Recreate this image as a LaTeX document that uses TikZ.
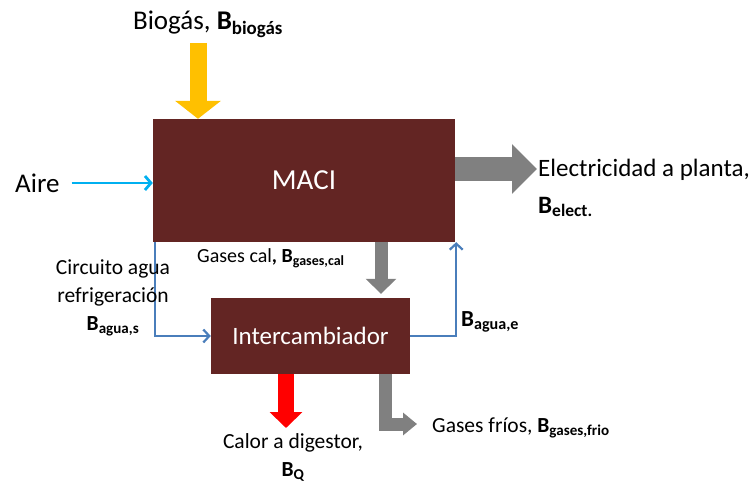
\documentclass[tikz,border=0pt]{standalone}
\usepackage{fontspec}
\setmainfont{Carlito}
\usetikzlibrary{arrows.meta, positioning}
\definecolor{maci}{HTML}{632523}
\definecolor{flecha}{HTML}{808080}
\definecolor{agua}{HTML}{4A7EBB}
\definecolor{aire}{HTML}{00B0F0}
\definecolor{biogas}{HTML}{FFC000}

\begin{document}
\begin{tikzpicture}[x=1pt, y=-1pt,
      equipo/.style={fill=maci, text=white, inner sep=0pt,
                     font=\fontsize{25}{30}\selectfont},
      grande/.style={font=\fontsize{27}{30}\selectfont, inner sep=0pt},
      medio/.style={font=\fontsize{21.5}{28}\selectfont, inner sep=0pt, align=center},
      linea/.style={agua, line width=2.2pt, -{Straight Barb[length=6pt,width=13pt]}},
      gorda/.style={line width=#1}]
    \useasboundingbox (0,0) rectangle (752,484);
    % equipos
    \node[equipo, minimum width=302pt, minimum height=123pt,
          font=\fontsize{29}{30}\selectfont] (maci) at (304,180.5) {MACI};
    \node[equipo, minimum width=199pt, minimum height=76pt] (interc) at (310.5,336) {Intercambiador};
    % entradas
    \node[grande] (biotxt) at (208,24) {Biogás, \textbf{B\textsubscript{biogás}}};
    \coordinate (bio) at (198,43);
    \draw[biogas, gorda=17pt, -{Triangle[length=18pt,width=45pt]}] (bio) -- (maci.north -| bio);
    \node[grande, anchor=west] (aire) at (15,183) {Aire};
    \draw[aire, line width=2.8pt, -{Straight Barb[length=6pt,width=14pt]}]
      ([xshift=12pt]aire.east) -- (aire -| maci.west);
    % electricidad
    \coordinate (elec) at (537,169);
    \draw[flecha, gorda=24pt, -{Triangle[length=25pt,width=48pt]}] (maci.east |- elec) -- (elec);
    \node[grande, anchor=west, font=\fontsize{25}{30}\selectfont] (electxt) at (538,170) {Electricidad a planta,};
    \node[grande, anchor=west, font=\fontsize{25}{30}\selectfont] (belec) at (538,207) {\textbf{B\textsubscript{elect.}}};
    % gases calientes
    \coordinate (gc) at (381,0);
    \draw[flecha, gorda=13pt, -{Triangle[length=15pt,width=30pt]}]
      (maci.south -| gc) -- ([yshift=4pt]interc.north -| gc);
    \node[medio, anchor=west, font=\fontsize{20}{28}\selectfont] (gctxt) at (197,258)
      {Gases cal\textbf{, B\textsubscript{gases,cal}}};
    % circuito de agua
    \draw[linea] ([xshift=2pt]maci.south west) |- (interc.west);
    \draw[linea] (interc.east) -| ([xshift=1pt]maci.south east);
    \node[medio] (circ) at (113,298) {Circuito agua\\refrigeración\\\textbf{B\textsubscript{agua,s}}};
    \node[medio, anchor=west, font=\fontsize{23}{28}\selectfont] (bae) at (461,322)
      {\textbf{B\textsubscript{agua,e}}};
    % salidas
    \coordinate (cal) at (286,428);
    \draw[red, gorda=16pt, -{Triangle[length=16pt,width=32pt]}] (interc.south -| cal) -- (cal);
    \node[medio] (caltxt) at (293,443) {Calor a digestor,};
    \node[medio] (bq) at (293,472) {\textbf{B\textsubscript{Q}}};
    \coordinate (frio) at (417,424);
    \coordinate (fx) at (385,0);
    \draw[flecha, gorda=13pt, -{Triangle[length=14pt,width=22pt]}] (interc.south -| fx) |- (frio);
    \node[medio, anchor=west] (friotxt) at (432,428) {Gases fríos, \textbf{B\textsubscript{gases,frio}}};
\end{tikzpicture}
\end{document}
